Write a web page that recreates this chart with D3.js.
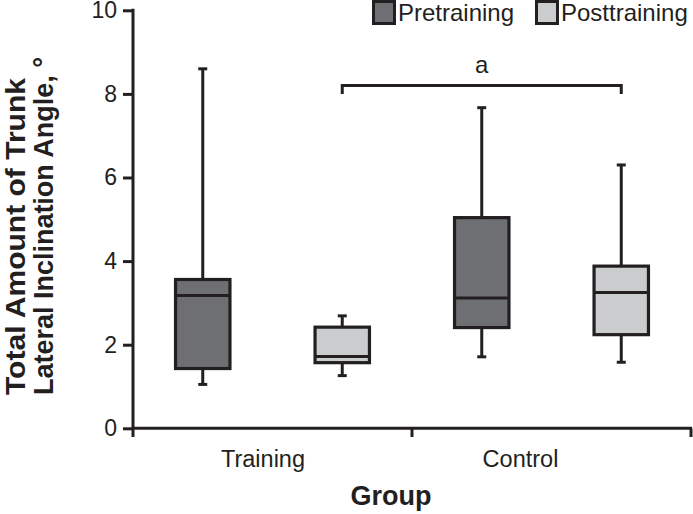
<!DOCTYPE html>
<html><head><meta charset="utf-8">
<script src="https://cdn.jsdelivr.net/npm/d3@7"></script>
<style>body{margin:0;background:#fff}svg{display:block}text{font-family:"Liberation Sans",Arial,sans-serif;fill:#231f20}</style>
</head><body>
<svg id="c" width="693" height="514"></svg>
<script>
const groups = ["Training", "Control"];
const phases = ["Pretraining", "Posttraining"];
// [min, q1, median, q3, max] per group, per phase
const pretraining = [[1.05, 1.43, 3.18, 3.56, 8.60], [1.71, 2.41, 3.12, 5.04, 7.67]];
const posttraining = [[1.26, 1.57, 1.72, 2.42, 2.69], [1.58, 2.24, 3.25, 3.88, 6.30]];
const yTicks = [0, 2, 4, 6, 8, 10];
const bracket = {from: ["Training", "Posttraining"], to: ["Control", "Posttraining"], y: 8.2, leg: 8.0, label: "a"};

const ink = "#231f20";
const fills = {Pretraining: "#6e6f72", Posttraining: "#cbcccd"};
const svg = d3.select("#c");
const x = d3.scaleBand().domain(groups).range([133, 691]).padding(0);
const xs = d3.scalePoint().domain(phases).range([0, x.bandwidth()]).padding(0.5);
const y = d3.scaleLinear().domain([0, 10]).range([428.3, 10.3]);
const cx = (g, p) => x(g) + xs(p);
const boxW = xs.step() * 0.39;
const capW = 9;

// y axis
const ya = svg.append("g").attr("transform", "translate(133,0)")
  .call(d3.axisLeft(y).tickValues(yTicks).tickSize(10).tickPadding(6).tickFormat(d3.format("d")));
ya.select(".domain").remove();
ya.selectAll("line").attr("stroke", ink).attr("stroke-width", 3);
ya.selectAll("text").attr("font-size", 23).style("font-family", '"Liberation Sans",Arial,sans-serif').attr("fill", ink);
svg.append("line").attr("x1", 133).attr("x2", 133).attr("y1", y(10) - 1.5).attr("y2", 437)
  .attr("stroke", ink).attr("stroke-width", 3);

// x axis
svg.append("line").attr("x1", 131.5).attr("x2", 692).attr("y1", y(0)).attr("y2", y(0))
  .attr("stroke", ink).attr("stroke-width", 3);
const bounds = groups.map(g => x(g)).concat([x(groups[groups.length - 1]) + x.bandwidth()]).slice(1);
svg.selectAll(".xt").data(bounds).enter().append("line")
  .attr("x1", d => Math.min(d, 691)).attr("x2", d => Math.min(d, 691))
  .attr("y1", y(0)).attr("y2", 437).attr("stroke", ink).attr("stroke-width", 3);
const labelNudge = [-9.5, -31];
svg.selectAll(".xl").data(groups).enter().append("text")
  .attr("x", (g, i) => x(g) + x.bandwidth() / 2 + labelNudge[i]).attr("y", 466.5)
  .attr("text-anchor", "middle").attr("font-size", 23.5).text(g => g);

// titles
svg.append("text").attr("x", 391).attr("y", 505).attr("text-anchor", "middle")
  .attr("font-size", 27).attr("font-weight", "bold").text("Group");
svg.append("text").attr("transform", "translate(25,395) rotate(-90)")
  .attr("font-size", 28).attr("font-weight", "bold")
  .attr("textLength", 317).attr("lengthAdjust", "spacingAndGlyphs").text("Total Amount of Trunk");
svg.append("text").attr("transform", "translate(53,395) rotate(-90)")
  .attr("font-size", 28).attr("font-weight", "bold")
  .attr("textLength", 338).attr("lengthAdjust", "spacingAndGlyphs").text("Lateral Inclination Angle, °");

// boxes
const rows = [];
groups.forEach((g, gi) => {
  rows.push({g, p: "Pretraining", s: pretraining[gi]});
  rows.push({g, p: "Posttraining", s: posttraining[gi]});
});
const bx = svg.selectAll(".box").data(rows).enter().append("g");
bx.append("line").attr("x1", d => cx(d.g, d.p)).attr("x2", d => cx(d.g, d.p))
  .attr("y1", d => y(d.s[0])).attr("y2", d => y(d.s[4])).attr("stroke", ink).attr("stroke-width", 3);
bx.append("line").attr("x1", d => cx(d.g, d.p) - capW / 2).attr("x2", d => cx(d.g, d.p) + capW / 2)
  .attr("y1", d => y(d.s[0])).attr("y2", d => y(d.s[0])).attr("stroke", ink).attr("stroke-width", 3);
bx.append("line").attr("x1", d => cx(d.g, d.p) - capW / 2).attr("x2", d => cx(d.g, d.p) + capW / 2)
  .attr("y1", d => y(d.s[4])).attr("y2", d => y(d.s[4])).attr("stroke", ink).attr("stroke-width", 3);
bx.append("rect").attr("x", d => cx(d.g, d.p) - boxW / 2).attr("width", boxW)
  .attr("y", d => y(d.s[3])).attr("height", d => y(d.s[1]) - y(d.s[3]))
  .attr("fill", d => fills[d.p]).attr("stroke", ink).attr("stroke-width", 3.2);
bx.append("line").attr("x1", d => cx(d.g, d.p) - boxW / 2).attr("x2", d => cx(d.g, d.p) + boxW / 2)
  .attr("y1", d => y(d.s[2])).attr("y2", d => y(d.s[2])).attr("stroke", ink).attr("stroke-width", 3);

// significance bracket
const bx1 = cx(...bracket.from), bx2 = cx(...bracket.to);
svg.append("path")
  .attr("d", `M${bx1},${y(bracket.leg)}V${y(bracket.y)}H${bx2}V${y(bracket.leg)}`)
  .attr("fill", "none").attr("stroke", ink).attr("stroke-width", 3);
svg.append("text").attr("x", (bx1 + bx2) / 2).attr("y", 72.5).attr("text-anchor", "middle")
  .attr("font-size", 24).text(bracket.label);

// legend
const lg = svg.append("g");
const legX = [372, 535];
phases.forEach((p, i) => {
  lg.append("rect").attr("x", legX[i] + 1.5).attr("y", 1.5).attr("width", 21).attr("height", 22)
    .attr("fill", fills[p]).attr("stroke", ink).attr("stroke-width", 3);
  lg.append("text").attr("x", legX[i] + 26).attr("y", 20.5).attr("font-size", 24).text(p);
});
</script>
</body></html>
